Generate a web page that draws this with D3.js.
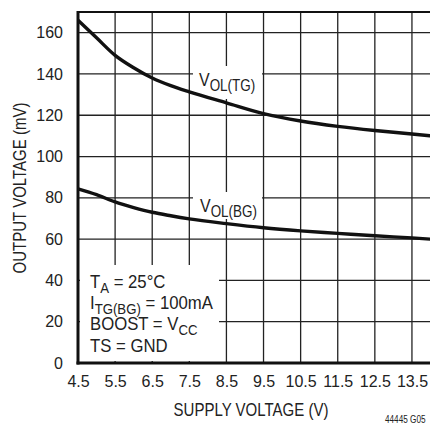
<!DOCTYPE html>
<html>
<head>
<meta charset="utf-8">
<script src="https://cdn.jsdelivr.net/npm/d3@7"></script>
<style>
  body { margin: 0; background: #fff; }
  svg text { fill: #222; }
  .narrow { font-family: "Liberation Sans", sans-serif; }
</style>
</head>
<body>
<div id="chart"></div>
<script>
// values (supply voltage in V, output in mV)
const supplyV = [4.5, 5, 5.5, 6, 6.5, 7, 7.5, 8.5, 9.5, 10.5, 11.5, 12.5, 13.5, 14]
const volTG = [166, 157.5, 149, 143, 138, 134.3, 131.3, 126, 120.8, 117.2, 114.6, 112.6, 110.9, 110]
const volBG = [84.3, 81.5, 78, 75.3, 73, 71.3, 69.8, 67.5, 65.5, 64, 62.8, 61.6, 60.6, 60]
const xTicks = [4.5, 5.5, 6.5, 7.5, 8.5, 9.5, 10.5, 11.5, 12.5, 13.5]
const yTicks = [0, 20, 40, 60, 80, 100, 120, 140, 160]

const W = 430, H = 427
const svg = d3.select("#chart").append("svg").attr("width", W).attr("height", H)

const x = d3.scaleLinear().domain([4.5, 14]).range([78, 430.5])
const y = d3.scaleLinear().domain([0, 170]).range([363, 12])

// areas kept clear of grid lines, behind the labels (pixels)
const clear = [
  { x0: 193, x1: 262, y0: 66, y1: 99 },
  { x0: 193, x1: 262, y0: 192, y1: 219 },
  { x0: 80, x1: 219, y0: 265, y1: 361 }
]
// split a grid line [a,b] at fixed position p into pieces that skip the clear areas
function pieces(a, b, p, vertical) {
  let segs = [[a, b]]
  clear.forEach(c => {
    const inside = vertical ? (p > c.x0 && p < c.x1) : (p > c.y0 && p < c.y1)
    if (!inside) return
    const g0 = vertical ? c.y0 : c.x0, g1 = vertical ? c.y1 : c.x1
    const next = []
    segs.forEach(s => {
      if (g1 <= s[0] || g0 >= s[1]) { next.push(s); return }
      if (g0 > s[0]) next.push([s[0], g0])
      if (g1 < s[1]) next.push([g1, s[1]])
    })
    segs = next
  })
  return segs
}

// grid, as pieces around the labels
const vSegs = [], hSegs = []
xTicks.slice(1).forEach(t => pieces(y(170), y(0), x(t), true).forEach(s => vSegs.push({ p: x(t), a: s[0], b: s[1] })))
yTicks.slice(1).forEach(t => pieces(x(4.5), x(14), y(t), false).forEach(s => hSegs.push({ p: y(t), a: s[0], b: s[1] })))
const grid = svg.append("g").attr("stroke", "#222").attr("stroke-width", 1.3)
grid.selectAll(".vgrid").data(vSegs).enter().append("line").attr("class", "vgrid")
    .attr("x1", d => d.p).attr("x2", d => d.p).attr("y1", d => d.a).attr("y2", d => d.b)
grid.selectAll(".hgrid").data(hSegs).enter().append("line").attr("class", "hgrid")
    .attr("x1", d => d.a).attr("x2", d => d.b).attr("y1", d => d.p).attr("y2", d => d.p)
grid.append("line").attr("x1", x(4.5)).attr("x2", x(14)).attr("y1", y(170)).attr("y2", y(170))
    .attr("stroke", "#111").attr("stroke-width", 1.8)

// curves
const curve = d3.line().x((d, i) => x(supplyV[i])).y(d => y(d)).curve(d3.curveMonotoneX)
const curves = svg.append("g").attr("fill", "none").attr("stroke", "#111").attr("stroke-width", 3.4)
curves.append("path").attr("d", curve(volTG))
curves.append("path").attr("d", curve(volBG))

// axes
const yAxis = svg.append("g").attr("transform", "translate(" + x(4.5) + ",0)")
    .call(d3.axisLeft(y).tickValues(yTicks).tickSize(0).tickPadding(15))
const xAxis = svg.append("g").attr("transform", "translate(0," + y(0) + ")")
    .call(d3.axisBottom(x).tickValues(xTicks).tickSize(0).tickPadding(13).tickFormat(d3.format(".1f")))
;[yAxis, xAxis].forEach(a => {
  a.select(".domain").remove()
  a.selectAll("text").attr("font-family", "Liberation Sans, sans-serif").attr("font-size", 16).attr("fill", "#222")
})
const frame = svg.append("g").attr("stroke", "#111").attr("stroke-width", 3)
frame.append("line").attr("x1", x(4.5)).attr("x2", x(4.5)).attr("y1", y(170) - 1).attr("y2", y(0) + 1.5)
frame.append("line").attr("x1", x(4.5) - 1.5).attr("x2", x(14)).attr("y1", y(0)).attr("y2", y(0))

// labels with subscripts
const labels = svg.append("g")
function subLabel(px, py, main, sub, rest, size, subSize, sq) {
  const t = labels.append("text").attr("class", "narrow").attr("data-sq", sq)
      .attr("x", px).attr("y", py).attr("font-size", size)
  t.append("tspan").text(main)
  if (sub) t.append("tspan").attr("dy", size * 0.28).attr("font-size", subSize).text(sub)
  if (rest) t.append("tspan").attr("dy", -size * 0.28).text(rest)
}
subLabel(199, 86, "V", "OL(TG)", null, 19, 16, 0.84)
subLabel(200, 212, "V", "OL(BG)", null, 19, 16, 0.84)
subLabel(90, 288, "T", "A", " = 25°C", 19, 15, 0.88)
subLabel(90, 309, "I", "TG(BG)", " = 100mA", 19, 15, 0.88)
subLabel(90, 330, "BOOST = V", "CC", null, 19, 15, 0.88)
subLabel(90, 351.5, "TS = GND", null, null, 19, 15, 0.88)

// axis titles
labels.append("text").attr("class", "narrow").attr("data-sq", 0.79).attr("x", 251).attr("y", 416)
   .attr("text-anchor", "middle").attr("font-size", 19).text("SUPPLY VOLTAGE (V)")
labels.append("text").attr("class", "narrow").attr("data-sq", 0.79).attr("transform", "translate(26,188) rotate(-90)")
   .attr("text-anchor", "middle").attr("font-size", 19).text("OUTPUT VOLTAGE (mV)")
labels.append("text").attr("class", "narrow").attr("data-sq", 0.82).attr("x", 385).attr("y", 423)
   .attr("font-size", 10).text("44445 G05")

// no condensed face installed, so squeeze the condensed texts
svg.selectAll("text.narrow").each(function () {
  const len = this.getComputedTextLength()
  const sq = +this.getAttribute("data-sq")
  d3.select(this).attr("textLength", len * sq).attr("lengthAdjust", "spacingAndGlyphs")
})
</script>
</body>
</html>
